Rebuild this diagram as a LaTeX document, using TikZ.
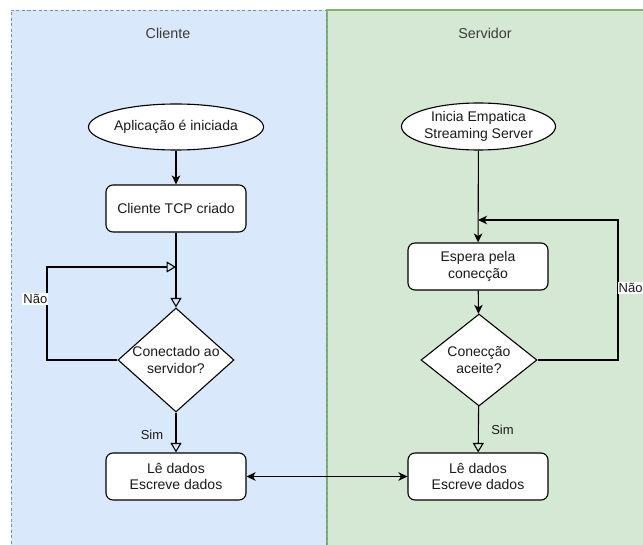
\documentclass[tikz,border=0pt]{standalone}
\usepackage{fontspec}
\setmainfont{Liberation Sans}
\usetikzlibrary{shapes.geometric,arrows.meta}
\definecolor{clientfill}{HTML}{DAE8FC}
\definecolor{clientline}{HTML}{6C8EBF}
\definecolor{serverfill}{HTML}{D5E8D4}
\definecolor{serverline}{HTML}{82B366}
\definecolor{ink}{HTML}{1A1A1A}
\tikzset{
  base/.style={font=\fontsize{14}{16.5}\selectfont, text=ink, align=center},
  terminal/.style={base, ellipse, draw=black, fill=white, line width=1.1pt,
    minimum width=140pt, minimum height=46pt, inner sep=0pt},
  process/.style={base, rectangle, rounded corners=7pt, draw=black, fill=white,
    line width=1.1pt, minimum width=140pt, minimum height=47pt, inner sep=0pt},
  decision/.style={diamond, draw=black, fill=white, line width=1.1pt, inner sep=0pt},
  dectext/.style={base, inner sep=0pt},
  title/.style={font=\fontsize{14.3}{17}\selectfont, text=ink!85},
  edgelabel/.style={font=\fontsize{13}{15}\selectfont, text=ink, inner sep=1pt},
  conn/.style={line width=1.1pt, draw=black},
  fa/.style={conn, -{Stealth[length=9pt,width=8.5pt,inset=2.5pt]}},
  fa2/.style={conn, {Stealth[length=9pt,width=8.5pt,inset=2.5pt]}-{Stealth[length=9pt,width=8.5pt,inset=2.5pt]}},
  oa/.style={conn, -{Triangle[open,length=9.5pt,width=11pt]}},
}
\begin{document}
\begin{tikzpicture}[x=1pt,y=-1pt]
\useasboundingbox (0,0) rectangle (643,545);
\clip (0,0) rectangle (643,545);

% swimlanes
\fill[serverfill] (327,10) rectangle (660,560);
\draw[serverline, line width=1.2pt] (327,560) -- (327,10) -- (660,10);
\fill[clientfill] (11,10) rectangle (326,560);
\draw[clientline, line width=0.9pt, dash pattern=on 3pt off 2.5pt]
  (11,560) -- (11,10) -- (326,10) -- (326,560);
\node[title] (tc) at (168,33) {Cliente};
\node[title] (ts) at (485,33) {Servidor};

% client flow
\node[terminal] (e1) at (176,127) {Aplicação é iniciada};
\node[process] (b1) at (176,208.5) {Cliente TCP criado};
\node[decision, minimum width=116pt, minimum height=104pt] (d1) at (176,360) {};
\node[dectext] (t1) at (d1.center) {Conectado ao\\servidor?};
\node[process] (r1) at (176,476.5) {Lê dados\\Escreve dados};

% server flow
\node[terminal, minimum width=141pt, minimum height=47pt] (e2) at (478.5,126.5) {Inicia Empatica\\Streaming Server};
\node[process] (b2) at (478,266.5) {Espera pela\\conecção};
\node[decision, minimum width=116pt, minimum height=92pt] (d2) at (479,360) {};
\node[dectext] (t2) at (d2.center) {Conecção\\aceite?};
\node[process] (r2) at (478,476.5) {Lê dados\\Escreve dados};

% loop corners and junctions
\coordinate (l1) at (47,267);
\coordinate (j1) at (176,267);
\coordinate (l2) at (618,220);
\coordinate (j2) at (478,220);

% client connectors
\draw[fa] (e1) -- (b1);
\draw[oa] (b1) -- (d1);
\draw[oa] (d1.west) -| (l1) -- (j1);
\draw[oa] (d1) -- (r1);

% server connectors
\draw[fa] (e2) -- (b2);
\draw[fa] (b2) -- (d2);
\draw[fa] (d2.east) -| (l2) -- (j2);
\draw[oa] (d2) -- (r2);

% data exchange
\draw[fa2] (r1) -- (r2);

% edge labels
\node[edgelabel, fill=white, anchor=east] (n1) at (48.5,299) {Não};
\node[edgelabel, fill=white, anchor=west] (n2) at (617.5,288) {Não};
\node[edgelabel] (s1) at (152,435) {Sim};
\node[edgelabel] (s2) at (502.5,430) {Sim};
\end{tikzpicture}
\end{document}
